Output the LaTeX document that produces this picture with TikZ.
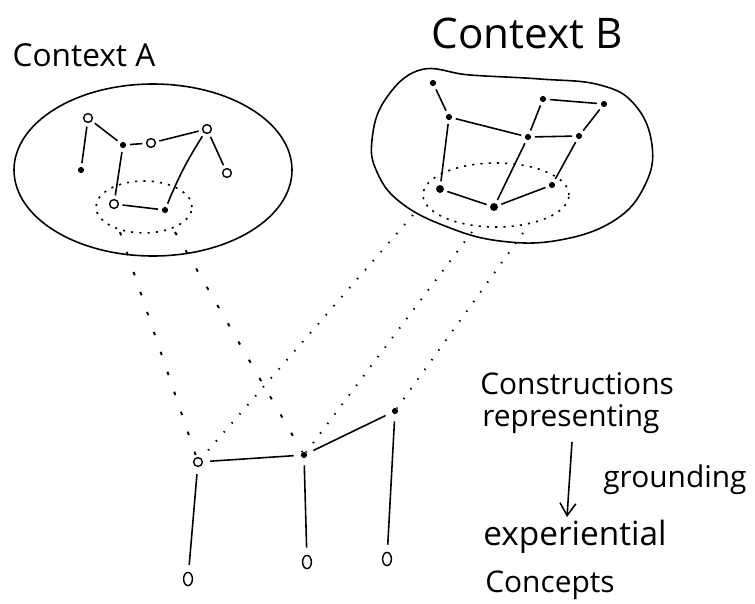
\documentclass[tikz,border=0pt]{standalone}
\usepackage{fontspec}
\setmainfont{Open Sans}
\usetikzlibrary{arrows.meta, shapes.geometric}

\begin{document}
\begin{tikzpicture}[
    x=0.02cm, y=-0.02cm,
    opn/.style={circle, draw, line width=0.8pt, inner sep=0pt, minimum size=5pt},
    dotn/.style={circle, fill, inner sep=0pt, minimum size=3.5pt},
    leaf/.style={ellipse, draw, line width=0.8pt, inner sep=0pt,
        minimum width=5pt, minimum height=7.5pt},
    lnk/.style={line width=0.9pt, shorten <=2pt, shorten >=2pt},
    sparse/.style={line width=1.1pt, dash pattern=on 2pt off 10pt},
    dense/.style={line width=1.1pt, dash pattern=on 0.8pt off 6pt},
    ring/.style={ellipse, draw, line width=0.9pt, dash pattern=on 1.2pt off 3.5pt,
        inner sep=0pt},
    hand/.style={font=\fontsize{17}{20}\selectfont, inner sep=0pt},
]
\useasboundingbox (0,0) rectangle (755,603);

% Context A
\node[hand, font=\fontsize{18}{20}\selectfont] (ttlA) at (84,55) {Context A};
\draw[line width=0.9pt] (153,170) ellipse [x radius=139, y radius=86];

\node[opn]  (a1) at (88,118) {};
\node[dotn] (a2) at (81,170) {};
\node[dotn] (a3) at (123,145) {};
\node[opn]  (a4) at (151,143) {};
\node[opn]  (a5) at (207,129) {};
\node[opn]  (a6) at (227,173) {};
\node[opn]  (a7) at (114,204) {};
\node[dotn] (a8) at (165,210) {};
\foreach \u/\v in {a1/a2, a1/a3, a3/a4, a4/a5, a5/a6, a3/a7, a7/a8}
    \draw[lnk] (\u) -- (\v);
\draw[lnk] (a5) to[bend right=5] (a8);

\node[ring, minimum width=1.92cm, minimum height=1.04cm] (ringA) at (144,207) {};

% Context B
\node[hand, font=\fontsize{24}{28}\selectfont] (ttlB) at (527,33) {Context B};
\draw[line width=0.9pt] plot[smooth cycle, tension=0.7] coordinates {
    (372,140) (385,100) (420,70) (470,75) (540,79) (600,85) (635,105)
    (652,145) (645,185) (615,220) (560,240) (500,241) (445,226)
    (400,202) (377,172)};

\node[dotn] (b1) at (433,83) {};
\node[dotn] (b2) at (449,117) {};
\node[dotn] (b3) at (543,99) {};
\node[dotn] (b4) at (604,104) {};
\node[dotn] (b5) at (528,137) {};
\node[dotn] (b6) at (579,136) {};
\node[dotn, minimum size=4.5pt] (b7) at (440,189) {};
\node[dotn, minimum size=4.5pt] (b8) at (494,207) {};
\node[dotn] (b9) at (552,185) {};
\foreach \u/\v in {b1/b2, b2/b5, b3/b4, b3/b5, b4/b6, b5/b6, b2/b7,
                   b5/b8, b6/b9, b7/b8, b8/b9}
    \draw[lnk] (\u) -- (\v);

\node[ring, minimum width=2.92cm, minimum height=1.28cm] (ringB) at (496,195) {};

% Constructions
\node[opn]  (c1) at (198,462) {};
\node[dotn] (c2) at (304,455) {};
\node[dotn] (c3) at (395,411) {};
\node[leaf] (d1) at (188,579) {};
\node[leaf] (d2) at (307,562) {};
\node[leaf] (d3) at (387,559) {};
\foreach \u/\v in {c1/c2, c2/c3, c1/d1, c2/d2, c3/d3}
    \draw[lnk, shorten <=4pt, shorten >=4pt] (\u) -- (\v);

% Projections from the contexts
\coordinate (sA1) at (120,232);
\coordinate (sA2) at (175,232);
\coordinate (sB1) at (413,215);
\coordinate (sB2) at (472,232);
\coordinate (sB3) at (523,233);
\draw[sparse] (sA1) -- (c1);
\draw[sparse] (sA2) -- (c2);
\draw[dense] (sB1) -- (c1);
\draw[dense] (sB2) -- (c2);
\draw[dense] (sB3) -- (c3);

% Legend
\node[hand, anchor=base west] (cons) at (480,394) {Constructions};
\node[hand, anchor=base west] (repr) at (482,426) {representing};
\coordinate (gtop) at (572,442);
\coordinate (gbot) at (567,517);
\draw[line width=0.9pt, -{Straight Barb[length=7pt, width=9pt]}] (gtop) -- (gbot);
\node[hand, anchor=base west] (grnd) at (603,487) {grounding};
\node[hand, anchor=base west, font=\fontsize{19}{22}\selectfont] (expr)
    at (483,545) {experiential};
\node[hand, anchor=base west] (conc) at (485,592) {Concepts};

\end{tikzpicture}
\end{document}
